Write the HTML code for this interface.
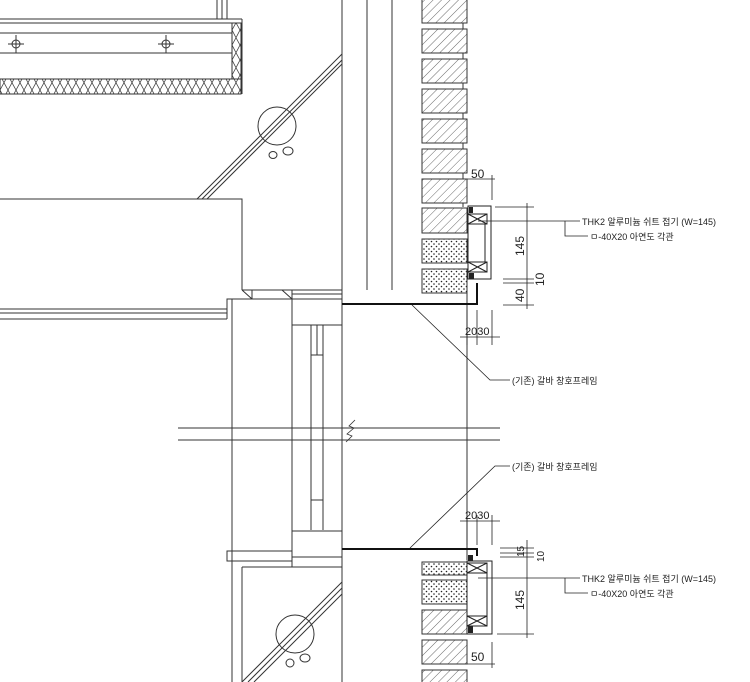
<!DOCTYPE html>
<html><head><meta charset="utf-8"><style>
html,body{margin:0;padding:0;background:#fff;width:750px;height:682px;overflow:hidden}
svg text{font-family:"Liberation Sans","Noto Sans CJK KR",sans-serif;fill:#222}
</style></head><body>
<svg width="750" height="682" viewBox="0 0 750 682" xmlns="http://www.w3.org/2000/svg">
<defs>
<pattern id="hat" width="6" height="6" patternUnits="userSpaceOnUse" patternTransform="rotate(45)">
<rect width="6" height="6" fill="#fff"/><line x1="0" y1="0" x2="0" y2="6" stroke="#444" stroke-width="0.8"/></pattern>
<pattern id="dot" width="5" height="5" patternUnits="userSpaceOnUse">
<rect width="5" height="5" fill="#fff"/><circle cx="1.5" cy="1.5" r="0.8" fill="#222"/><circle cx="4" cy="4" r="0.8" fill="#222"/></pattern>
<pattern id="ins" width="8" height="15" patternUnits="userSpaceOnUse">
<rect width="8" height="15" fill="#fff"/><path d="M0 0 Q4 8 8 15 M8 0 Q4 8 0 15" stroke="#444" stroke-width="0.8" fill="none"/></pattern>
</defs>
<g stroke="#333" stroke-width="1" fill="none">
<!-- top-left panel -->
<line x1="217" y1="0" x2="217" y2="19"/><line x1="222" y1="0" x2="222" y2="19"/><line x1="227" y1="0" x2="227" y2="19"/>
<line x1="0" y1="19" x2="242" y2="19"/><line x1="0" y1="23" x2="232" y2="23"/>
<line x1="0" y1="33" x2="232" y2="33"/><line x1="0" y1="53" x2="232" y2="53"/>
<rect x="232" y="23" width="9" height="56" fill="url(#ins)"/>
<rect x="0" y="79" width="241" height="15" fill="url(#ins)"/>
<line x1="242" y1="19" x2="242" y2="94"/>
<g><circle cx="16" cy="44" r="4"/><line x1="8" y1="44" x2="24" y2="44"/><line x1="16" y1="35" x2="16" y2="53"/>
<circle cx="166" cy="44" r="4"/><line x1="158" y1="44" x2="174" y2="44"/><line x1="166" y1="35" x2="166" y2="53"/></g>
<!-- upper diagonal glass -->
<line x1="197" y1="199" x2="342" y2="54"/><line x1="202" y1="199" x2="342" y2="60"/><line x1="207" y1="199" x2="342" y2="64"/>
<circle cx="277" cy="126" r="19"/><ellipse cx="273" cy="155" rx="4" ry="3.5"/><ellipse cx="288" cy="151" rx="5" ry="4"/>
<!-- big rect -->
<polyline points="0,199 242,199 242,290"/>
<line x1="0" y1="309" x2="227" y2="309"/><line x1="0" y1="313" x2="227" y2="313"/><line x1="0" y1="319" x2="227" y2="319"/>
<polyline points="227,319 227,299 342,299"/>
<line x1="232" y1="299" x2="232" y2="682"/>
<line x1="242" y1="290" x2="342" y2="290"/><line x1="292" y1="294" x2="342" y2="294"/>
<line x1="242" y1="290" x2="252" y2="299"/><line x1="282" y1="290" x2="292" y2="299"/><line x1="292" y1="290" x2="292" y2="299"/><line x1="252" y1="290" x2="252" y2="299"/>
<!-- main verticals -->
<line x1="342" y1="0" x2="342" y2="682"/>
<line x1="367" y1="0" x2="367" y2="290"/><line x1="392" y1="0" x2="392" y2="290"/>
<line x1="292" y1="299" x2="292" y2="567"/>
<line x1="292" y1="325" x2="342" y2="325"/>
<line x1="311" y1="325" x2="311" y2="530"/><line x1="323" y1="325" x2="323" y2="530"/><line x1="317" y1="325" x2="317" y2="355"/>
<line x1="311" y1="355" x2="323" y2="355"/><line x1="311" y1="500" x2="323" y2="500"/>
<line x1="292" y1="531" x2="342" y2="531"/><line x1="292" y1="557" x2="342" y2="557"/>
<rect x="227" y="551" width="65" height="10"/>
<line x1="242" y1="567" x2="342" y2="567"/><line x1="242" y1="567" x2="242" y2="682"/>
<!-- lower diagonal -->
<line x1="242" y1="682" x2="342" y2="582"/><line x1="248" y1="682" x2="342" y2="588"/><line x1="254" y1="682" x2="342" y2="594"/>
<circle cx="295" cy="634" r="19"/><ellipse cx="290" cy="663" rx="4" ry="4"/><ellipse cx="305" cy="658" rx="5" ry="4"/>
<!-- horizontal band -->
<line x1="178" y1="428" x2="500" y2="428"/><line x1="178" y1="440" x2="500" y2="440"/>
<path d="M346 442 L352 436 L347 434 L354 428 L349 426 L355 420" stroke-width="0.8"/>
<!-- right wall line -->
<line x1="467" y1="290" x2="467" y2="560"/>
</g>
<!-- bricks -->
<g stroke="#333" stroke-width="1">
<line x1="463" y1="0" x2="463" y2="207"/>
<rect x="422" y="-1" width="45" height="24" fill="url(#hat)"/>
<rect x="422" y="29" width="45" height="24" fill="url(#hat)"/>
<rect x="422" y="59" width="45" height="24" fill="url(#hat)"/>
<rect x="422" y="89" width="45" height="24" fill="url(#hat)"/>
<rect x="422" y="119" width="45" height="24" fill="url(#hat)"/>
<rect x="422" y="149" width="45" height="24" fill="url(#hat)"/>
<rect x="422" y="179" width="45" height="24" fill="url(#hat)"/>
<rect x="422" y="208" width="45" height="25" fill="url(#hat)"/>
<rect x="422" y="239" width="45" height="24" fill="url(#dot)"/>
<rect x="422" y="269" width="45" height="24" fill="url(#dot)"/>
<rect x="422" y="562" width="45" height="13" fill="url(#dot)"/>
<rect x="422" y="580" width="45" height="24" fill="url(#dot)"/>
<rect x="422" y="610" width="45" height="24" fill="url(#hat)"/>
<rect x="422" y="640" width="45" height="24" fill="url(#hat)"/>
<rect x="422" y="670" width="45" height="24" fill="url(#hat)"/>
</g>
<!-- thick frames -->
<g stroke="#111" stroke-width="2" fill="none">
<polyline points="342,304 477,304 477,283"/>
<polyline points="342,549 477,549 477,556"/>
</g>
<!-- aluminum frames -->
<g stroke="#222" stroke-width="1" fill="none">
<rect x="468" y="206" width="23" height="73"/>
<rect x="468" y="214" width="19" height="10"/><path d="M468 214 L487 224 M487 214 L468 224"/>
<rect x="468" y="262" width="19" height="10"/><path d="M468 262 L487 272 M487 262 L468 272"/>
<line x1="485" y1="224" x2="485" y2="262"/>
<rect x="467" y="561" width="25" height="73"/>
<rect x="467" y="563" width="20" height="10"/><path d="M467 563 L487 573 M487 563 L467 573"/>
<rect x="467" y="616" width="20" height="10"/><path d="M467 616 L487 626 M487 616 L467 626"/>
<line x1="487" y1="573" x2="487" y2="616"/>
</g>
<g fill="#222"><rect x="469" y="207" width="4" height="6"/><rect x="469" y="273" width="5" height="6"/>
<rect x="468" y="555" width="5" height="6"/><rect x="468" y="626" width="5" height="7"/></g>
<!-- dims & leaders -->
<g stroke="#222" stroke-width="0.8" fill="none">
<line x1="467" y1="179" x2="495" y2="179"/><line x1="492" y1="175" x2="492" y2="200"/>
<line x1="495" y1="207" x2="534" y2="207"/><line x1="503" y1="279" x2="534" y2="279"/><line x1="503" y1="283" x2="534" y2="283"/><line x1="503" y1="305" x2="534" y2="305"/>
<line x1="527" y1="203" x2="527" y2="309"/>
<line x1="467" y1="310" x2="467" y2="345"/><line x1="477" y1="310" x2="477" y2="345"/><line x1="492" y1="310" x2="492" y2="345"/>
<line x1="460" y1="337" x2="500" y2="337"/>
<polyline points="412,305 490,380 510,380"/>
<polyline points="478,221 565,221 580,221"/><polyline points="565,221 565,236 588,236"/>
<line x1="467" y1="515" x2="467" y2="545"/><line x1="477" y1="515" x2="477" y2="545"/><line x1="492" y1="515" x2="492" y2="545"/>
<line x1="460" y1="521" x2="500" y2="521"/>
<polyline points="410,548 495,466 510,466"/>
<line x1="500" y1="548" x2="534" y2="548"/><line x1="500" y1="553" x2="534" y2="553"/><line x1="500" y1="557" x2="534" y2="557"/>
<line x1="497" y1="634" x2="534" y2="634"/>
<line x1="527" y1="540" x2="527" y2="638"/>
<polyline points="478,578 565,578 580,578"/><polyline points="565,578 565,593 588,593"/>
<line x1="467" y1="664" x2="495" y2="664"/><line x1="492" y1="642" x2="492" y2="668"/>
</g>
<g font-size="12">
<text x="471" y="178">50</text>
<text x="471" y="661">50</text>
<text x="465" y="335" font-size="11">2030</text>
<text x="465" y="519" font-size="11">2030</text>
<text transform="translate(524,256) rotate(-90)">145</text>
<text transform="translate(524,302) rotate(-90)">40</text>
<text transform="translate(544,286) rotate(-90)">10</text>
<text transform="translate(524,610) rotate(-90)">145</text>
<text transform="translate(524,557) rotate(-90)" font-size="10">15</text>
<text transform="translate(544,562) rotate(-90)" font-size="10">10</text>
</g>
<g font-size="9">
<text x="512" y="384">(기존) 갈바 창호프레임</text>
<text x="512" y="470">(기존) 갈바 창호프레임</text>
<text x="582" y="225">THK2 알루미늄 쉬트 접기 (W=145)</text>
<text x="590" y="240">ㅁ-40X20 아연도 각관</text>
<text x="582" y="582">THK2 알루미늄 쉬트 접기 (W=145)</text>
<text x="590" y="597">ㅁ-40X20 아연도 각관</text>
</g>
</svg>
</body></html>
